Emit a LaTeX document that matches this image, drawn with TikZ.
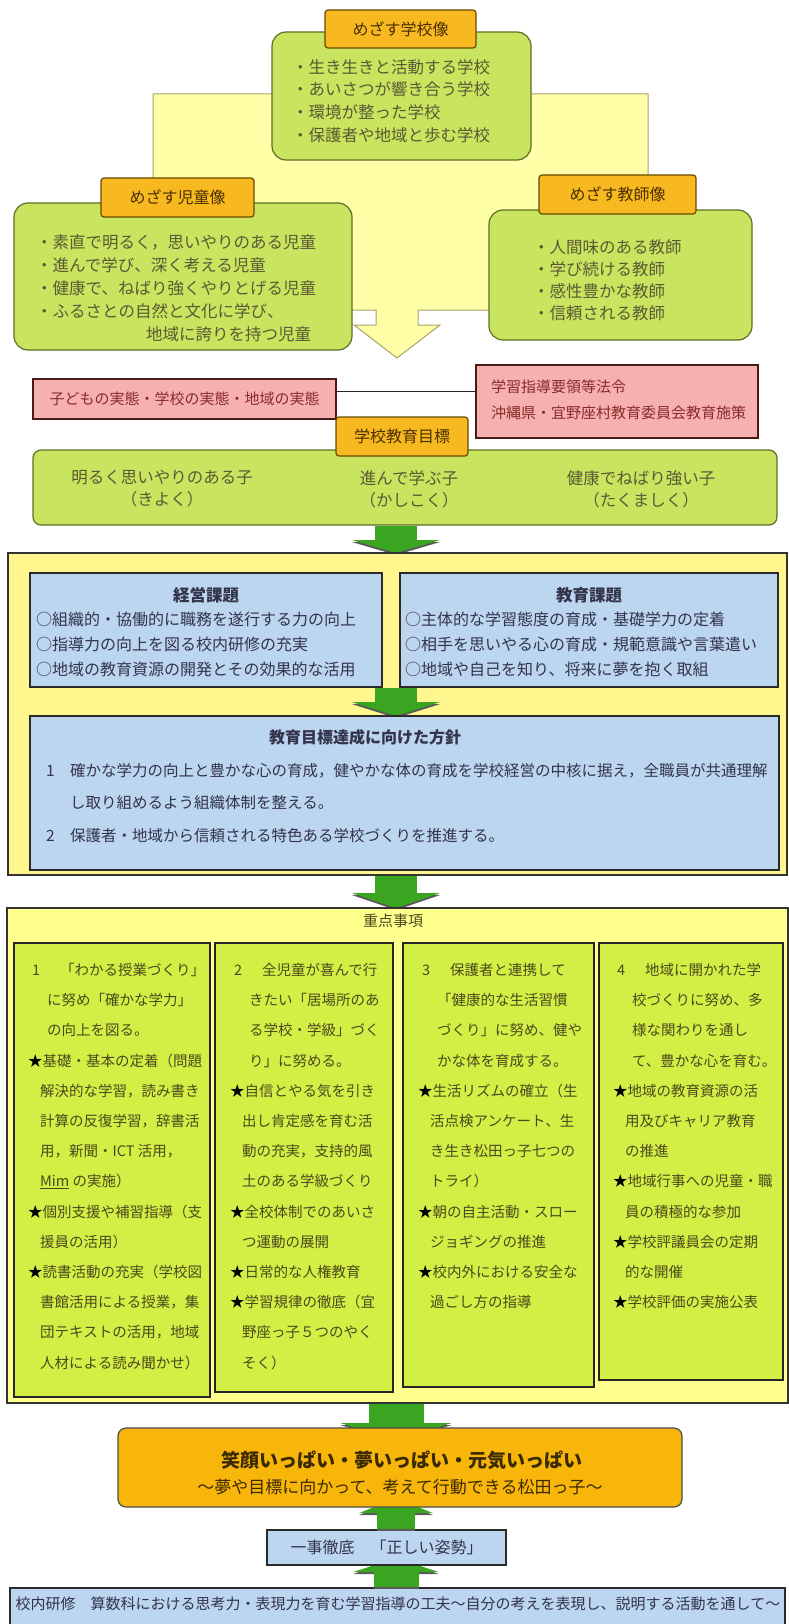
\documentclass[tikz,border=0pt]{standalone}
\usepackage{fontspec}
\setmainfont{Noto Sans CJK JP}
\usetikzlibrary{calc,arrows.meta}
\definecolor{lblfill}{HTML}{F8B820}
\definecolor{lbldraw}{HTML}{6A4A00}
\definecolor{lbltext}{HTML}{4A3000}
\definecolor{gfill}{HTML}{C9E45E}
\definecolor{gdraw}{HTML}{5F6E28}
\definecolor{gtext}{HTML}{5A5A36}
\definecolor{ybgc}{HTML}{FFFFA8}
\definecolor{ybgdraw}{HTML}{A8A46A}
\definecolor{pfill}{HTML}{F6B0B0}
\definecolor{pdraw}{HTML}{4A1A1A}
\definecolor{ptext}{HTML}{8A2A2A}
\definecolor{bfill}{HTML}{BCD6F0}
\definecolor{bdraw}{HTML}{2A2A2A}
\definecolor{btext}{HTML}{33334A}
\definecolor{p1fill}{HTML}{FFF68E}
\definecolor{p2fill}{HTML}{FFFF8E}
\definecolor{cfill}{HTML}{D3EE44}
\definecolor{ctext}{HTML}{4A4A1E}
\definecolor{garrowc}{HTML}{3AA520}
\definecolor{ofill}{HTML}{F8B60A}
\definecolor{otext}{HTML}{3A2A00}

% box node from corner coordinates
\newcommand\bx[7]{\node[#2, minimum width={(#5)-(#3)}, minimum height={(#6)-(#4)}, inner sep=0pt] (#1) at ({((#3)+(#5))/2},{((#4)+(#6))/2}) {#7};}
% green arrow: from, to, shaft width, head width, head length
\newcommand\garr[5]{%
 \draw[gshadow, line width=#3pt, -{Triangle[width=#4pt,length=#5pt]}] #1 -- #2;
 \draw[garrow, line width=#3pt, -{Triangle[width=#4pt,length=#5pt]}] #1 -- #2;}
% column line helpers
\newcommand\numln[2]{\makebox[32pt][l]{\hspace*{4pt}#1}#2}
\newcommand\cln[1]{\hspace*{19pt}#1}
\newcommand\sln[1]{\textcolor{black}{★}#1}
\newcommand\scn[1]{\hspace*{12pt}#1}

\begin{document}
\begin{tikzpicture}[x=1pt,y=-1pt,
 gbox/.style={draw=gdraw, fill=gfill, rounded corners=14pt, line width=1.2pt},
 lbl/.style={draw=lbldraw, fill=lblfill, rounded corners=3pt, line width=1.2pt, text=lbltext, font=\fontsize{16}{16}\selectfont},
 pbox/.style={draw=pdraw, fill=pfill, line width=1.5pt},
 bbox/.style={draw=bdraw, fill=bfill, line width=1.5pt},
 panelA/.style={draw=black!80, fill=p1fill, line width=1.5pt},
 panelB/.style={draw=black!80, fill=p2fill, line width=1.5pt},
 cbox/.style={draw=black!85, fill=cfill, line width=1.5pt},
 obox/.style={draw=black!70, fill=ofill, rounded corners=8pt, line width=1.2pt},
 goalbox/.style={draw=gdraw, fill=gfill, rounded corners=8pt, line width=1.2pt},
 txt/.style={inner sep=0pt, anchor=north west, align=left},
 gshadow/.style={draw=black!65, transform canvas={yshift=-2pt}},
 garrow/.style={draw=garrowc},
]
\useasboundingbox[fill=white] (0,0) rectangle (789,1624);
\coordinate (ax) at (396,0);

% ---- top: yellow background with arrow
\filldraw[fill=ybgc, draw=ybgdraw, line width=1pt] (153,94) -- (648,94) -- (648,310) -- (418,310) -- (418,325) -- (440,325) -- (397,358) -- (354,325) -- (376,325) -- (376,310) -- (153,310) -- cycle;

\bx{school}{gbox}{272}{32}{531}{160}{}
\bx{child}{gbox}{14}{203}{352}{350}{}
\bx{teacher}{gbox}{489}{210}{752}{340}{}
\bx{lschool}{lbl}{325}{10}{476}{48}{めざす学校像}
\bx{lchild}{lbl}{101}{178}{254}{217}{めざす児童像}
\bx{lteacher}{lbl}{539}{175}{696}{214}{めざす教師像}

\node[txt, text=gtext, font=\fontsize{16.5}{22.7}\selectfont] (tschool) at (292,59) {・生き生きと活動する学校\\%
・あいさつが響き合う学校\\%
・環境が整った学校\\%
・保護者や地域と歩む学校};
\node[txt, text=gtext, font=\fontsize{16.5}{23.2}\selectfont] (tchild) at (36,234) {・素直で明るく，思いやりのある児童\\%
・進んで学び、深く考える児童\\%
・健康で、ねばり強くやりとげる児童\\%
・ふるさとの自然と文化に学び、\\%
\hspace*{110pt}地域に誇りを持つ児童};
\node[txt, text=gtext, font=\fontsize{16.5}{22}\selectfont] (tteacher) at (533,239) {・人間味のある教師\\%
・学び続ける教師\\%
・感性豊かな教師\\%
・信頼される教師};

% ---- pink boxes
\bx{pL}{pbox, text=ptext, font=\fontsize{15}{15}\selectfont}{33}{379}{336}{419}{子どもの実態・学校の実態・地域の実態}
\bx{pR}{pbox}{476}{365}{758}{438}{}
\node[txt, text=ptext, font=\fontsize{15}{26}\selectfont] (tpR) at (491,380) {学習指導要領等法令\\%
沖縄県・宜野座村教育委員会教育施策};
\coordinate (pl1) at ($(pL.north east)+(0,13)$);
\draw[line width=1.5pt, black!85] (pl1) -- (pl1 -| pR.west);

% ---- goals
\bx{goal}{goalbox}{33}{450}{777}{525}{}
\bx{lgoal}{lbl}{336}{417}{468}{456}{学校教育目標}
\node[align=center, inner sep=0pt, text=gtext, font=\fontsize{16.5}{22}\selectfont] (g1) at (162,489) {明るく思いやりのある子\\（きよく）};
\node[align=center, inner sep=0pt, text=gtext, font=\fontsize{16.5}{22}\selectfont] (g2) at (409,489) {進んで学ぶ子\\（かしこく）};
\node[align=center, inner sep=0pt, text=gtext, font=\fontsize{16.5}{22}\selectfont] (g3) at (641,489) {健康でねばり強い子\\（たくましく）};

% ---- panel 1
\coordinate (p1top) at (396,553);
\garr{(goal.south -| ax)}{(p1top)}{42}{88}{13}
\bx{p1}{panelA}{8}{553}{787}{875}{}
\bx{kL}{bbox}{30}{573}{382}{687}{}
\bx{kR}{bbox}{400}{573}{778}{687}{}
\node[inner sep=0pt, text=btext, font=\bfseries\fontsize{16.5}{16.5}\selectfont] (kLt) at (206,595) {経営課題};
\node[inner sep=0pt, text=btext, font=\bfseries\fontsize{16.5}{16.5}\selectfont] (kRt) at (589,595) {教育課題};
\node[txt, text=btext, font=\fontsize{16}{25}\selectfont] (kLx) at (36,612) {○組織的・協働的に職務を遂行する力の向上\\%
○指導力の向上を図る校内研修の充実\\%
○地域の教育資源の開発とその効果的な活用};
\node[txt, text=btext, font=\fontsize{16}{25}\selectfont] (kRx) at (405,612) {○主体的な学習態度の育成・基礎学力の定着\\%
○相手を思いやる心の育成・規範意識や言葉遣い\\%
○地域や自己を知り、将来に夢を抱く取組};
\coordinate (htop) at (396,716);
\garr{(kL.south -| ax)}{(htop)}{42}{88}{14}
\bx{hou}{bbox}{30}{716}{779}{870}{}
\node[inner sep=0pt, text=btext, font=\bfseries\fontsize{16}{16}\selectfont] (hout) at (365,737) {教育目標達成に向けた方針};
\node[txt, text=btext, font=\fontsize{15.5}{32.5}\selectfont] (houx) at (46,763) {\makebox[24pt][l]{1}確かな学力の向上と豊かな心の育成，健やかな体の育成を学校経営の中核に据え，全職員が共通理解\\%
\hspace*{24pt}し取り組めるよう組織体制を整える。\\%
\makebox[24pt][l]{2}保護者・地域から信頼される特色ある学校づくりを推進する。};

% ---- panel 2
\coordinate (p2top) at (396,908);
\garr{(p1.south -| ax)}{(p2top)}{42}{88}{15}
\bx{p2}{panelB}{7}{908}{788}{1403}{}
\node[inner sep=0pt, text=ctext, font=\fontsize{15}{15}\selectfont] (p2t) at (393,921) {重点事項};
\bx{c1}{cbox}{14}{943}{210}{1397}{}
\bx{c2}{cbox}{215}{943}{393}{1392}{}
\bx{c3}{cbox}{403}{943}{594}{1387}{}
\bx{c4}{cbox}{599}{943}{783}{1380}{}
\node[txt, text=ctext, font=\fontsize{14.5}{30.2}\selectfont] (c1x) at (28,963) {\numln{1}{「わかる授業づくり」}\\%
\cln{に努め「確かな学力」}\\%
\cln{の向上を図る。}\\%
\sln{基礎・基本の定着（問題}\\%
\scn{解決的な学習，読み書き}\\%
\scn{計算の反復学習，辞書活}\\%
\scn{用，新聞・ICT 活用，}\\%
\scn{\underline{Mim} の実施）}\\%
\sln{個別支援や補習指導（支}\\%
\scn{援員の活用）}\\%
\sln{読書活動の充実（学校図}\\%
\scn{書館活用による授業，集}\\%
\scn{団テキストの活用，地域}\\%
\scn{人材による読み聞かせ）}};
\node[txt, text=ctext, font=\fontsize{14.5}{30.2}\selectfont] (c2x) at (230,963) {\numln{2}{全児童が喜んで行}\\%
\cln{きたい「居場所のあ}\\%
\cln{る学校・学級」づく}\\%
\cln{り」に努める。}\\%
\sln{自信とやる気を引き}\\%
\scn{出し肯定感を育む活}\\%
\scn{動の充実，支持的風}\\%
\scn{土のある学級づくり}\\%
\sln{全校体制でのあいさ}\\%
\scn{つ運動の展開}\\%
\sln{日常的な人権教育}\\%
\sln{学習規律の徹底（宜}\\%
\scn{野座っ子５つのやく}\\%
\scn{そく）}};
\node[txt, text=ctext, font=\fontsize{14.5}{30.2}\selectfont] (c3x) at (418,963) {\numln{3}{保護者と連携して}\\%
\cln{「健康的な生活習慣}\\%
\cln{づくり」に努め、健や}\\%
\cln{かな体を育成する。}\\%
\sln{生活リズムの確立（生}\\%
\scn{活点検アンケート、生}\\%
\scn{き生き松田っ子七つの}\\%
\scn{トライ）}\\%
\sln{朝の自主活動・スロー}\\%
\scn{ジョギングの推進}\\%
\sln{校内外における安全な}\\%
\scn{過ごし方の指導}};
\node[txt, text=ctext, font=\fontsize{14.5}{30.2}\selectfont] (c4x) at (613,963) {\numln{4}{地域に開かれた学}\\%
\cln{校づくりに努め、多}\\%
\cln{様な関わりを通し}\\%
\cln{て、豊かな心を育む。}\\%
\sln{地域の教育資源の活}\\%
\scn{用及びキャリア教育}\\%
\scn{の推進}\\%
\sln{地域行事への児童・職}\\%
\scn{員の積極的な参加}\\%
\sln{学校評議員会の定期}\\%
\scn{的な開催}\\%
\sln{学校評価の実施公表}};

% ---- bottom
\coordinate (t1) at (396,1440);
\coordinate (t2) at (396,1498);
\coordinate (t3) at (396,1558);
\garr{(p2.south -| ax)}{(t1)}{55}{111}{17}
\bx{kounai}{bbox}{10}{1588}{785}{1630}{}
\garr{(kounai.north -| ax)}{(t3)}{45}{85}{14}
\bx{ichiji}{bbox, text=btext, font=\fontsize{16}{16}\selectfont}{267}{1530}{506}{1565}{一事徹底　「正しい姿勢」}
\garr{(ichiji.north -| ax)}{(t2)}{38}{73}{15}
\bx{motto}{obox}{118}{1428}{682}{1507}{}
\node[inner sep=0pt, text=otext, font=\bfseries\fontsize{19}{19}\selectfont] (m1) at (402,1460) {笑顔いっぱい・夢いっぱい・元気いっぱい};
\node[inner sep=0pt, text=otext, font=\fontsize{17}{17}\selectfont] (m2) at (400,1487) {～夢や目標に向かって、考えて行動できる松田っ子～};
\node[inner sep=0pt, text=btext, font=\fontsize{15}{15}\selectfont] (kx) at (398,1604) {校内研修　算数科における思考力・表現力を育む学習指導の工夫～自分の考えを表現し、説明する活動を通して～};
\end{tikzpicture}
\end{document}
